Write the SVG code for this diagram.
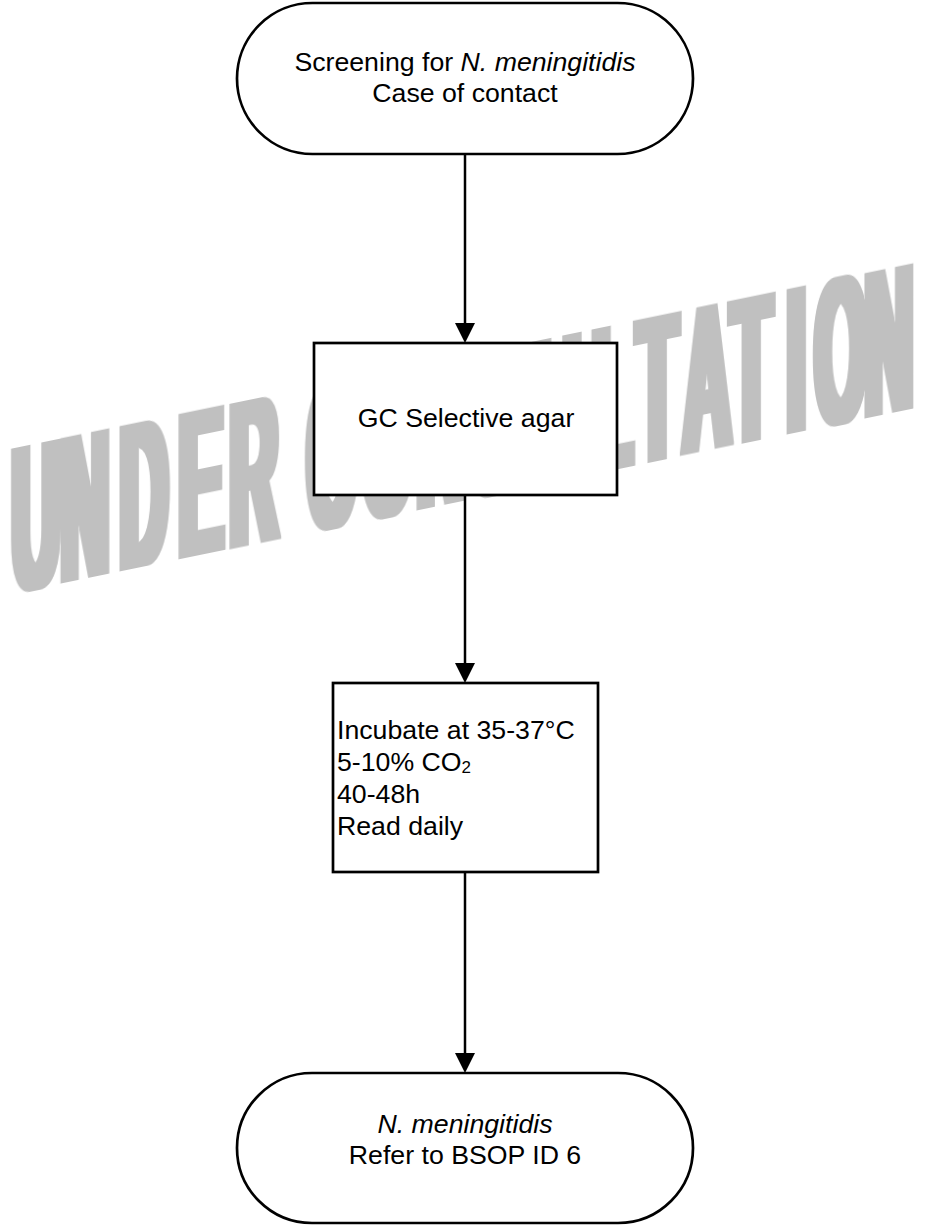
<svg xmlns="http://www.w3.org/2000/svg" width="926" height="1226" viewBox="0 0 926 1226">
<style>
.node{fill:#fff;stroke:#000;stroke-width:2.7}
.lbl{font-family:"Liberation Sans",Arial,sans-serif;font-size:26.7px;fill:#000}
.c{text-anchor:middle}
.i{font-style:italic}
.conn{stroke:#000;stroke-width:2.5;fill:none}
.wm{font-family:"Liberation Sans",Arial,sans-serif;font-weight:bold;font-size:207px;fill:#c0c0c0}
</style>
<defs>
<marker id="ah" markerUnits="userSpaceOnUse" markerWidth="20" markerHeight="20" viewBox="0 0 20 20" refX="10" refY="10" orient="auto">
<path d="M0,0 L20,10 L0,20 z" fill="#000"/>
</marker>
<filter id="thick" x="-5%" y="-20%" width="110%" height="140%">
<feMorphology operator="dilate" radius="16 0.5"/>
</filter>
</defs>
<rect width="926" height="1226" fill="#fff"/>
<g id="watermark">
<text class="wm" filter="url(#thick)" transform="translate(0,595) skewY(-11.6) scale(0.32,1)" x="37.5 190.6 375 559.4 718.8 881.3 959.4 1131.3 1303.1 1475 1665.6 1850 1990.6 2134.4 2284.4 2459.4 2546.9 2703.1" y="0">UNDER CONSULTATION</text>
</g>
<g id="connectors">
<line class="conn" x1="465" y1="154" x2="465" y2="333" marker-end="url(#ah)"/>
<line class="conn" x1="465" y1="495" x2="465" y2="673" marker-end="url(#ah)"/>
<line class="conn" x1="465" y1="872" x2="465" y2="1063" marker-end="url(#ah)"/>
</g>
<g id="start">
<rect class="node" x="237" y="3" width="456" height="151" rx="75.5" ry="75.5"/>
<text class="lbl c" x="465" y="71">Screening for <tspan class="i">N. meningitidis</tspan></text>
<text class="lbl c" x="465" y="102">Case of contact</text>
</g>
<g id="gc">
<rect class="node" x="314" y="343" width="303" height="152"/>
<text class="lbl c" x="466" y="427">GC Selective agar</text>
</g>
<g id="incubate">
<rect class="node" x="333" y="683" width="265" height="189"/>
<text class="lbl" x="337" y="739">Incubate at 35-37°C</text>
<text class="lbl" x="337" y="771">5-10% CO<tspan font-size="17" dy="2">2</tspan></text>
<text class="lbl" x="337" y="803">40-48h</text>
<text class="lbl" x="337" y="835">Read daily</text>
</g>
<g id="end">
<rect class="node" x="237" y="1073" width="456" height="150" rx="75" ry="75"/>
<text class="lbl c i" x="465" y="1133">N. meningitidis</text>
<text class="lbl c" x="465" y="1164">Refer to BSOP ID 6</text>
</g>
</svg>
